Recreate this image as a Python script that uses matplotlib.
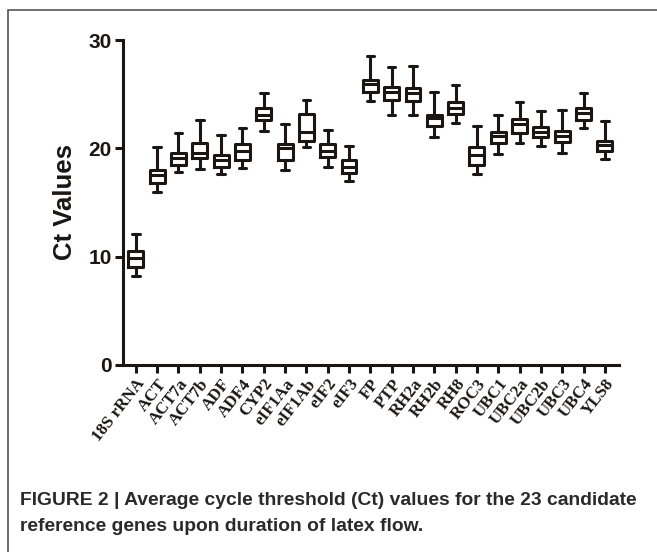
import matplotlib.pyplot as plt
from matplotlib.patches import Rectangle

genes = ['18S rRNA', 'ACT', 'ACT7a', 'ACT7b', 'ADF', 'ADF4', 'CYP2', 'eIF1Aa',
         'eIF1Ab', 'eIF2', 'eIF3', 'FP', 'PTP', 'RH2a', 'RH2b', 'RH8', 'ROC3',
         'UBC1', 'UBC2a', 'UBC2b', 'UBC3', 'UBC4', 'YLS8']

# whisker low, Q1, median, Q3, whisker high
wlo = [8.2, 16.0, 17.8, 18.1, 17.65, 18.2, 21.6, 18.0, 20.1, 18.3, 16.95, 24.4,
       23.1, 23.1, 21.0, 22.35, 17.65, 19.5, 20.5, 20.25, 19.55, 21.85, 19.0]
q1 = [9.05, 16.8, 18.5, 19.1, 18.3, 18.9, 22.6, 18.9, 20.7, 19.2, 17.7, 25.2,
      24.5, 24.4, 22.05, 23.2, 18.5, 20.5, 21.4, 21.0, 20.6, 22.6, 19.75]
med = [9.85, 17.5, 19.1, 19.55, 18.9, 19.75, 23.1, 20.0, 21.5, 19.75, 18.3, 25.9,
       25.2, 25.1, 22.8, 23.75, 19.4, 21.1, 22.2, 21.5, 21.15, 23.3, 20.3]
q3 = [10.5, 17.96, 19.6, 20.5, 19.4, 20.4, 23.75, 20.4, 23.2, 20.4, 18.9, 26.3,
      25.65, 25.55, 23.1, 24.3, 20.1, 21.5, 22.7, 22.0, 21.6, 23.75, 20.7]
whi = [12.1, 20.1, 21.4, 22.6, 21.2, 21.9, 25.1, 22.2, 24.5, 21.7, 20.2, 28.5,
       27.5, 27.6, 25.2, 25.8, 22.05, 23.1, 24.3, 23.45, 23.5, 25.1, 22.5]

ink = '#1c1515'

fig = plt.figure(figsize=(6.57, 5.52), dpi=100)
ax = fig.add_axes([0.187, 0.339, 0.755, 0.5885])

stats = []
for i in range(len(genes)):
    stats.append(dict(whislo=wlo[i], q1=q1[i], med=med[i], q3=q3[i], whishi=whi[i], fliers=[]))

lw = 2.2
ax.bxp(stats, positions=range(1, len(genes) + 1), widths=0.7, capwidths=0.36,
       showfliers=False, patch_artist=False,
       boxprops=dict(color=ink, linewidth=lw),
       medianprops=dict(color=ink, linewidth=lw),
       whiskerprops=dict(color=ink, linewidth=lw),
       capprops=dict(color=ink, linewidth=lw, solid_capstyle='round'))

ax.set_xlim(0.39, 23.66)
ax.set_ylim(0, 30)
ax.set_yticks([0, 10, 20, 30])
ax.set_xticks(range(1, len(genes) + 1))
ax.set_xticklabels(genes, rotation=52, ha='right', rotation_mode='anchor',
                   fontfamily='Liberation Serif', fontweight='bold', fontsize=12.2, color=ink)
for lab in ax.get_yticklabels():
    lab.set_fontfamily('Liberation Sans')
    lab.set_fontweight('bold')
    lab.set_fontsize(15)
    lab.set_color(ink)

for s in ['top', 'right']:
    ax.spines[s].set_visible(False)
for s in ['left', 'bottom']:
    ax.spines[s].set_linewidth(2.2)
    ax.spines[s].set_color(ink)
ax.tick_params(axis='y', length=6, width=2.2, color=ink, pad=2)
ax.tick_params(axis='x', length=6, width=2.2, color=ink, pad=2)

ax.set_ylabel('Ct Values', fontfamily='Liberation Sans', fontweight='bold',
              fontsize=18.5, color=ink, labelpad=8)

# frame around the figure (left and top visible)
fig.patches.append(Rectangle((8 / 657, -0.1), 1.2, 1 - 10 / 552 + 0.1,
                             transform=fig.transFigure, fill=False,
                             edgecolor='#555555', linewidth=1.2))

cap_font = 'Liberation Sans'
fig.text(20 / 657, 1 - 505 / 552,
         'FIGURE 2 | Average cycle threshold (Ct) values for the 23 candidate',
         fontfamily=cap_font, fontweight='bold', fontsize=13.9, color='#2a2a2a',
         va='baseline')
fig.text(20 / 657, 1 - 531 / 552,
         'reference genes upon duration of latex flow.',
         fontfamily=cap_font, fontweight='bold', fontsize=13.9, color='#2a2a2a',
         va='baseline')

fig.savefig('out.png', dpi=100)
